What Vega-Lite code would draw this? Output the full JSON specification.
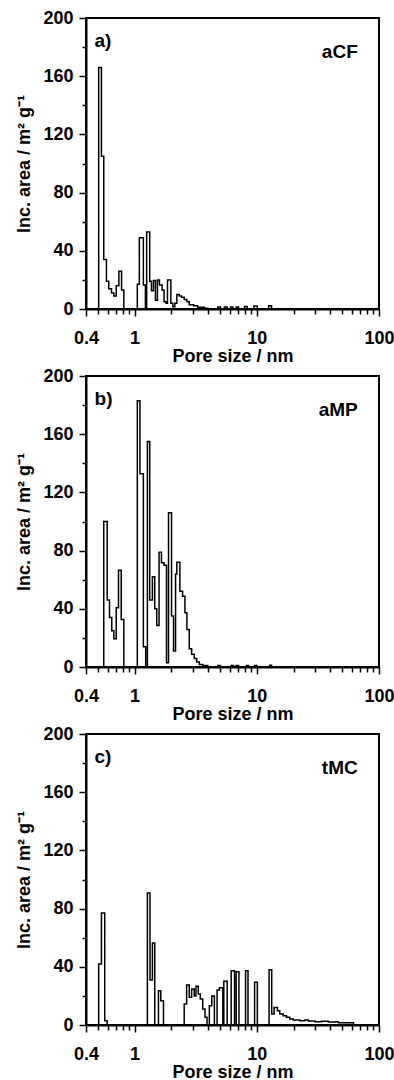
{
  "$schema": "https://vega.github.io/schema/vega-lite/v6.json",
  "padding": {"left": 14, "top": 8, "right": 5, "bottom": 0},
  "bounds": "flush",
  "spacing": 67,
  "config": {
    "font": "Liberation Sans",
    "view": {"stroke": "black", "strokeWidth": 2},
    "axis": {
      "domainColor": "black", "domainWidth": 2, "tickColor": "black", "tickWidth": 1.5,
      "labelColor": "black", "labelFont": "Liberation Sans", "labelFontWeight": "bold", "labelFontSize": 18,
      "titleFont": "Liberation Sans", "titleFontWeight": "bold", "titleFontSize": 18, "titleColor": "black",
      "grid": false, "labelOverlap": false, "labelFlush": false
    }
  },
  "datasets": {
    "pore": [
      {"panel": "a", "x": 0.48, "y": 0}, {"panel": "a", "x": 0.508, "y": 166}, {"panel": "a", "x": 0.535, "y": 105},
      {"panel": "a", "x": 0.559, "y": 34}, {"panel": "a", "x": 0.588, "y": 19}, {"panel": "a", "x": 0.614, "y": 14},
      {"panel": "a", "x": 0.647, "y": 11}, {"panel": "a", "x": 0.676, "y": 9}, {"panel": "a", "x": 0.707, "y": 16},
      {"panel": "a", "x": 0.743, "y": 26}, {"panel": "a", "x": 0.782, "y": 13}, {"panel": "a", "x": 0.816, "y": 0},
      {"panel": "a", "x": 1.052, "y": 17}, {"panel": "a", "x": 1.093, "y": 49}, {"panel": "a", "x": 1.179, "y": 16.5},
      {"panel": "a", "x": 1.225, "y": 0}, {"panel": "a", "x": 1.255, "y": 53}, {"panel": "a", "x": 1.329, "y": 19},
      {"panel": "a", "x": 1.372, "y": 12.5}, {"panel": "a", "x": 1.425, "y": 19.6}, {"panel": "a", "x": 1.48, "y": 6},
      {"panel": "a", "x": 1.537, "y": 20}, {"panel": "a", "x": 1.597, "y": 16.5}, {"panel": "a", "x": 1.678, "y": 13},
      {"panel": "a", "x": 1.742, "y": 5}, {"panel": "a", "x": 1.809, "y": 4}, {"panel": "a", "x": 1.858, "y": 20},
      {"panel": "a", "x": 1.979, "y": 4}, {"panel": "a", "x": 2.055, "y": 1.5}, {"panel": "a", "x": 2.134, "y": 4},
      {"panel": "a", "x": 2.216, "y": 10}, {"panel": "a", "x": 2.32, "y": 9}, {"panel": "a", "x": 2.423, "y": 8},
      {"panel": "a", "x": 2.545, "y": 6.5}, {"panel": "a", "x": 2.679, "y": 5}, {"panel": "a", "x": 2.798, "y": 3},
      {"panel": "a", "x": 3.042, "y": 2.2}, {"panel": "a", "x": 3.281, "y": 1.2}, {"panel": "a", "x": 3.719, "y": 0.5},
      {"panel": "a", "x": 3.967, "y": 0}, {"panel": "a", "x": 4.795, "y": 1.3}, {"panel": "a", "x": 5.04, "y": 0},
      {"panel": "a", "x": 5.43, "y": 1.3}, {"panel": "a", "x": 5.72, "y": 0}, {"panel": "a", "x": 6.09, "y": 1.3},
      {"panel": "a", "x": 6.37, "y": 0}, {"panel": "a", "x": 6.78, "y": 1.3}, {"panel": "a", "x": 7.08, "y": 0},
      {"panel": "a", "x": 7.94, "y": 1.8}, {"panel": "a", "x": 8.35, "y": 0}, {"panel": "a", "x": 9.48, "y": 2},
      {"panel": "a", "x": 10.1, "y": 0}, {"panel": "a", "x": 12.5, "y": 2.3}, {"panel": "a", "x": 13.2, "y": 0},
      {"panel": "a", "x": 100, "y": 0},

      {"panel": "b", "x": 0.5, "y": 0}, {"panel": "b", "x": 0.559, "y": 100}, {"panel": "b", "x": 0.596, "y": 46},
      {"panel": "b", "x": 0.623, "y": 34}, {"panel": "b", "x": 0.65, "y": 25}, {"panel": "b", "x": 0.676, "y": 19.5},
      {"panel": "b", "x": 0.707, "y": 40.7}, {"panel": "b", "x": 0.738, "y": 66.5}, {"panel": "b", "x": 0.777, "y": 32.7},
      {"panel": "b", "x": 0.816, "y": 0}, {"panel": "b", "x": 1.052, "y": 183}, {"panel": "b", "x": 1.106, "y": 132.8},
      {"panel": "b", "x": 1.179, "y": 14}, {"panel": "b", "x": 1.232, "y": 0}, {"panel": "b", "x": 1.272, "y": 155},
      {"panel": "b", "x": 1.329, "y": 46}, {"panel": "b", "x": 1.398, "y": 62}, {"panel": "b", "x": 1.461, "y": 40},
      {"panel": "b", "x": 1.517, "y": 28.6}, {"panel": "b", "x": 1.585, "y": 78.9}, {"panel": "b", "x": 1.659, "y": 71.6},
      {"panel": "b", "x": 1.742, "y": 70}, {"panel": "b", "x": 1.823, "y": 3}, {"panel": "b", "x": 1.894, "y": 106},
      {"panel": "b", "x": 2.005, "y": 35}, {"panel": "b", "x": 2.082, "y": 11}, {"panel": "b", "x": 2.163, "y": 64},
      {"panel": "b", "x": 2.216, "y": 72}, {"panel": "b", "x": 2.346, "y": 52}, {"panel": "b", "x": 2.47, "y": 48.7},
      {"panel": "b", "x": 2.58, "y": 37.3}, {"panel": "b", "x": 2.679, "y": 25.8}, {"panel": "b", "x": 2.798, "y": 12.6},
      {"panel": "b", "x": 2.929, "y": 8.7}, {"panel": "b", "x": 3.077, "y": 5.8}, {"panel": "b", "x": 3.22, "y": 3.4},
      {"panel": "b", "x": 3.383, "y": 1.8}, {"panel": "b", "x": 3.608, "y": 1}, {"panel": "b", "x": 3.967, "y": 0},
      {"panel": "b", "x": 4.795, "y": 1}, {"panel": "b", "x": 5.04, "y": 0}, {"panel": "b", "x": 6.17, "y": 1},
      {"panel": "b", "x": 6.45, "y": 0}, {"panel": "b", "x": 6.78, "y": 1}, {"panel": "b", "x": 7.08, "y": 0},
      {"panel": "b", "x": 8.2, "y": 1}, {"panel": "b", "x": 8.55, "y": 0}, {"panel": "b", "x": 9.59, "y": 1},
      {"panel": "b", "x": 10.0, "y": 0}, {"panel": "b", "x": 12.74, "y": 1.2}, {"panel": "b", "x": 13.2, "y": 0},
      {"panel": "b", "x": 100, "y": 0},

      {"panel": "c", "x": 0.48, "y": 0}, {"panel": "c", "x": 0.508, "y": 42}, {"panel": "c", "x": 0.535, "y": 77},
      {"panel": "c", "x": 0.5695, "y": 3}, {"panel": "c", "x": 0.596, "y": 0}, {"panel": "c", "x": 1.272, "y": 90.7},
      {"panel": "c", "x": 1.336, "y": 31}, {"panel": "c", "x": 1.398, "y": 56.4}, {"panel": "c", "x": 1.461, "y": 0},
      {"panel": "c", "x": 1.567, "y": 23.6}, {"panel": "c", "x": 1.637, "y": 16.7}, {"panel": "c", "x": 1.723, "y": 0},
      {"panel": "c", "x": 2.545, "y": 14.4}, {"panel": "c", "x": 2.664, "y": 27.5}, {"panel": "c", "x": 2.798, "y": 19},
      {"panel": "c", "x": 2.929, "y": 24.7}, {"panel": "c", "x": 3.077, "y": 20}, {"panel": "c", "x": 3.177, "y": 26.6},
      {"panel": "c", "x": 3.319, "y": 21.3}, {"panel": "c", "x": 3.447, "y": 17.9}, {"panel": "c", "x": 3.608, "y": 11},
      {"panel": "c", "x": 3.768, "y": 5.3}, {"panel": "c", "x": 3.914, "y": 0}, {"panel": "c", "x": 4.088, "y": 13.3},
      {"panel": "c", "x": 4.279, "y": 20}, {"panel": "c", "x": 4.495, "y": 0}, {"panel": "c", "x": 4.73, "y": 24},
      {"panel": "c", "x": 4.94, "y": 25.6}, {"panel": "c", "x": 5.27, "y": 0}, {"panel": "c", "x": 5.37, "y": 30},
      {"panel": "c", "x": 5.72, "y": 0}, {"panel": "c", "x": 6.17, "y": 37.3}, {"panel": "c", "x": 6.57, "y": 0},
      {"panel": "c", "x": 6.78, "y": 36.6}, {"panel": "c", "x": 7.14, "y": 0}, {"panel": "c", "x": 8.09, "y": 37.3},
      {"panel": "c", "x": 8.47, "y": 0}, {"panel": "c", "x": 9.59, "y": 29.3}, {"panel": "c", "x": 10.1, "y": 0},
      {"panel": "c", "x": 12.6, "y": 38}, {"panel": "c", "x": 13.24, "y": 7.6}, {"panel": "c", "x": 13.86, "y": 12.1},
      {"panel": "c", "x": 14.75, "y": 9.8}, {"panel": "c", "x": 15.41, "y": 7.6}, {"panel": "c", "x": 16.43, "y": 6.4},
      {"panel": "c", "x": 17.49, "y": 5.3}, {"panel": "c", "x": 18.62, "y": 4.1}, {"panel": "c", "x": 19.86, "y": 3.5},
      {"panel": "c", "x": 22.5, "y": 3}, {"panel": "c", "x": 24.7, "y": 3.5}, {"panel": "c", "x": 26.4, "y": 2.8},
      {"panel": "c", "x": 29.9, "y": 2.2}, {"panel": "c", "x": 33.96, "y": 2.5}, {"panel": "c", "x": 38.5, "y": 2},
      {"panel": "c", "x": 43.7, "y": 2.3}, {"panel": "c", "x": 46.6, "y": 1.6}, {"panel": "c", "x": 61.9, "y": 0},
      {"panel": "c", "x": 100, "y": 0}
    ],
    "labels": [
      {"panel": "a", "kind": "letter", "label": "a)", "x": 0.47, "y": 180},
      {"panel": "a", "kind": "name", "label": "aCF", "x": 67, "y": 172.5},
      {"panel": "b", "kind": "letter", "label": "b)", "x": 0.47, "y": 180},
      {"panel": "b", "kind": "name", "label": "aMP", "x": 67, "y": 172.5},
      {"panel": "c", "kind": "letter", "label": "c)", "x": 0.47, "y": 180},
      {"panel": "c", "kind": "name", "label": "tMC", "x": 67, "y": 172.5}
    ]
  },
  "vconcat": [
    {
      "width": 293, "height": 291,
      "layer": [
        {
          "data": {"name": "pore"},
          "transform": [{"filter": "datum.panel === 'a'"}],
          "mark": {"type": "line", "interpolate": "step-after", "color": "black", "strokeWidth": 1.5, "clip": true},
          "encoding": {
            "x": {"field": "x", "type": "quantitative", "scale": {"type": "log", "domain": [0.4, 100]},
                  "axis": {"orient": "bottom", "values": [0.4, 1, 10, 100], "format": "~g", "tickSize": 7, "labelPadding": 13, "title": "Pore size / nm", "titlePadding": 0}},
            "y": {"field": "y", "type": "quantitative", "scale": {"domain": [0, 200]},
                  "axis": {"orient": "left", "values": [0, 40, 80, 120, 160, 200], "tickSize": 7, "labelPadding": 6, "title": "Inc. area / m² g⁻¹", "titlePadding": 9}}
          }
        },
        {
          "data": {"name": "labels"},
          "transform": [{"filter": "datum.panel === 'a' && datum.kind === 'letter'"}],
          "mark": {"type": "text", "align": "left", "baseline": "alphabetic", "fontSize": 19, "fontWeight": "bold", "color": "black"},
          "encoding": {
            "x": {"field": "x", "type": "quantitative", "scale": {"type": "log", "domain": [0.4, 100]},
                  "axis": {"orient": "bottom", "values": [0.5, 0.6, 0.7, 0.8, 0.9, 2, 3, 4, 5, 6, 7, 8, 9, 20, 30, 40, 50, 60, 70, 80, 90], "tickSize": 5, "labels": false, "domain": false, "title": null}},
            "y": {"field": "y", "type": "quantitative", "scale": {"domain": [0, 200]},
                  "axis": {"orient": "left", "values": [20, 60, 100, 140, 180], "tickSize": 4, "labels": false, "domain": false, "title": null}},
            "text": {"field": "label"}
          }
        },
        {
          "data": {"name": "labels"},
          "transform": [{"filter": "datum.panel === 'a' && datum.kind === 'name'"}],
          "mark": {"type": "text", "align": "right", "baseline": "alphabetic", "fontSize": 19, "fontWeight": "bold", "color": "black"},
          "encoding": {
            "x": {"field": "x", "type": "quantitative", "scale": {"type": "log", "domain": [0.4, 100]}, "axis": null},
            "y": {"field": "y", "type": "quantitative", "scale": {"domain": [0, 200]}, "axis": null},
            "text": {"field": "label"}
          }
        }
      ],
      "resolve": {"axis": {"x": "independent", "y": "independent"}}
    },
    {
      "width": 293, "height": 291,
      "layer": [
        {
          "data": {"name": "pore"},
          "transform": [{"filter": "datum.panel === 'b'"}],
          "mark": {"type": "line", "interpolate": "step-after", "color": "black", "strokeWidth": 1.5, "clip": true},
          "encoding": {
            "x": {"field": "x", "type": "quantitative", "scale": {"type": "log", "domain": [0.4, 100]},
                  "axis": {"orient": "bottom", "values": [0.4, 1, 10, 100], "format": "~g", "tickSize": 7, "labelPadding": 13, "title": "Pore size / nm", "titlePadding": 0}},
            "y": {"field": "y", "type": "quantitative", "scale": {"domain": [0, 200]},
                  "axis": {"orient": "left", "values": [0, 40, 80, 120, 160, 200], "tickSize": 7, "labelPadding": 6, "title": "Inc. area / m² g⁻¹", "titlePadding": 9}}
          }
        },
        {
          "data": {"name": "labels"},
          "transform": [{"filter": "datum.panel === 'b' && datum.kind === 'letter'"}],
          "mark": {"type": "text", "align": "left", "baseline": "alphabetic", "fontSize": 19, "fontWeight": "bold", "color": "black"},
          "encoding": {
            "x": {"field": "x", "type": "quantitative", "scale": {"type": "log", "domain": [0.4, 100]},
                  "axis": {"orient": "bottom", "values": [0.5, 0.6, 0.7, 0.8, 0.9, 2, 3, 4, 5, 6, 7, 8, 9, 20, 30, 40, 50, 60, 70, 80, 90], "tickSize": 5, "labels": false, "domain": false, "title": null}},
            "y": {"field": "y", "type": "quantitative", "scale": {"domain": [0, 200]},
                  "axis": {"orient": "left", "values": [20, 60, 100, 140, 180], "tickSize": 4, "labels": false, "domain": false, "title": null}},
            "text": {"field": "label"}
          }
        },
        {
          "data": {"name": "labels"},
          "transform": [{"filter": "datum.panel === 'b' && datum.kind === 'name'"}],
          "mark": {"type": "text", "align": "right", "baseline": "alphabetic", "fontSize": 19, "fontWeight": "bold", "color": "black"},
          "encoding": {
            "x": {"field": "x", "type": "quantitative", "scale": {"type": "log", "domain": [0.4, 100]}, "axis": null},
            "y": {"field": "y", "type": "quantitative", "scale": {"domain": [0, 200]}, "axis": null},
            "text": {"field": "label"}
          }
        }
      ],
      "resolve": {"axis": {"x": "independent", "y": "independent"}}
    },
    {
      "width": 293, "height": 291,
      "layer": [
        {
          "data": {"name": "pore"},
          "transform": [{"filter": "datum.panel === 'c'"}],
          "mark": {"type": "line", "interpolate": "step-after", "color": "black", "strokeWidth": 1.5, "clip": true},
          "encoding": {
            "x": {"field": "x", "type": "quantitative", "scale": {"type": "log", "domain": [0.4, 100]},
                  "axis": {"orient": "bottom", "values": [0.4, 1, 10, 100], "format": "~g", "tickSize": 7, "labelPadding": 13, "title": "Pore size / nm", "titlePadding": 0}},
            "y": {"field": "y", "type": "quantitative", "scale": {"domain": [0, 200]},
                  "axis": {"orient": "left", "values": [0, 40, 80, 120, 160, 200], "tickSize": 7, "labelPadding": 6, "title": "Inc. area / m² g⁻¹", "titlePadding": 9}}
          }
        },
        {
          "data": {"name": "labels"},
          "transform": [{"filter": "datum.panel === 'c' && datum.kind === 'letter'"}],
          "mark": {"type": "text", "align": "left", "baseline": "alphabetic", "fontSize": 19, "fontWeight": "bold", "color": "black"},
          "encoding": {
            "x": {"field": "x", "type": "quantitative", "scale": {"type": "log", "domain": [0.4, 100]},
                  "axis": {"orient": "bottom", "values": [0.5, 0.6, 0.7, 0.8, 0.9, 2, 3, 4, 5, 6, 7, 8, 9, 20, 30, 40, 50, 60, 70, 80, 90], "tickSize": 5, "labels": false, "domain": false, "title": null}},
            "y": {"field": "y", "type": "quantitative", "scale": {"domain": [0, 200]},
                  "axis": {"orient": "left", "values": [20, 60, 100, 140, 180], "tickSize": 4, "labels": false, "domain": false, "title": null}},
            "text": {"field": "label"}
          }
        },
        {
          "data": {"name": "labels"},
          "transform": [{"filter": "datum.panel === 'c' && datum.kind === 'name'"}],
          "mark": {"type": "text", "align": "right", "baseline": "alphabetic", "fontSize": 19, "fontWeight": "bold", "color": "black"},
          "encoding": {
            "x": {"field": "x", "type": "quantitative", "scale": {"type": "log", "domain": [0.4, 100]}, "axis": null},
            "y": {"field": "y", "type": "quantitative", "scale": {"domain": [0, 200]}, "axis": null},
            "text": {"field": "label"}
          }
        }
      ],
      "resolve": {"axis": {"x": "independent", "y": "independent"}}
    }
  ]
}
